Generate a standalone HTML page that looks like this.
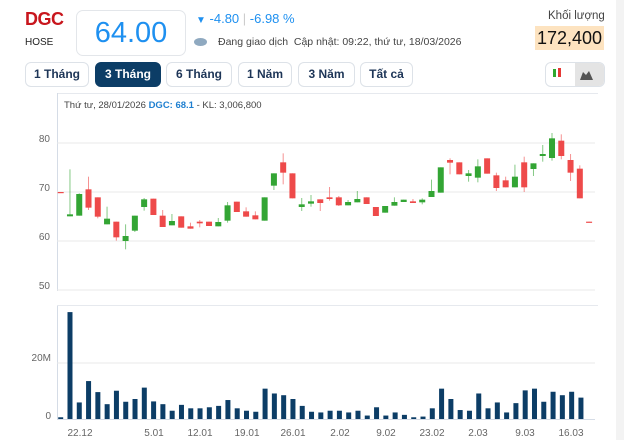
<!DOCTYPE html>
<html><head><meta charset="utf-8"><style>
body{margin:0;width:624px;height:440px;background:#fff;font-family:"Liberation Sans",sans-serif;position:relative;overflow:hidden}
.a{position:absolute;white-space:nowrap}
.btn{position:absolute;top:62px;height:23px;border:1px solid #dde2e8;border-radius:6px;font-size:12px;font-weight:bold;color:#1d3557;text-align:center;line-height:23px;background:#fff}
</style></head><body>
<div class="a" style="left:25px;top:9px;font-size:18px;font-weight:bold;color:#c8161d;letter-spacing:-0.5px">DGC</div>
<div class="a" style="left:25px;top:37px;font-size:10px;color:#222">HOSE</div>
<div class="a" style="left:76px;top:10px;width:108px;height:44px;border:1px solid #e3e6ea;border-radius:7px;text-align:center;font-size:29px;line-height:44px;color:#1e90f0">64.00</div>
<div class="a" style="left:196px;top:11px;font-size:13px;color:#1e90f0"><span style="font-size:10px">▼</span> -4.80 <span style="color:#ccc">|</span> -6.98 %</div>
<div class="a" style="left:194px;top:38px;width:13px;height:8px;border-radius:50%;background:#8fa9c0"></div>
<div class="a" style="left:218px;top:36px;font-size:10.5px;color:#444">Đang giao dịch &nbsp;Cập nhật: 09:22, thứ tư, 18/03/2026</div>
<div class="a" style="left:548px;top:10px;font-size:11.5px;color:#444">Khối lượng</div>
<div class="a" style="left:535px;top:26px;width:69px;height:24px;background:#fde3c0;font-size:18px;line-height:24px;text-align:center;color:#111">172,400</div>
<div class="btn" style="left:25px;width:62px">1 Tháng</div>
<div class="btn" style="left:95px;width:64px;background:#0c3d66;color:#fff;border-color:#0c3d66">3 Tháng</div>
<div class="btn" style="left:166px;width:64px">6 Tháng</div>
<div class="btn" style="left:238px;width:52px">1 Năm</div>
<div class="btn" style="left:298px;width:55px">3 Năm</div>
<div class="btn" style="left:360px;width:51px">Tất cả</div>
<div class="btn" style="left:545px;width:58px;padding:0;overflow:hidden"><div style="position:absolute;left:29px;top:0;width:29px;height:23px;background:#e4e4e4"></div></div>
<svg class="a" style="left:0;top:0" width="624" height="440">
<rect x="553" y="69" width="3" height="8" fill="#2ea82e"/><rect x="558" y="68" width="3" height="9" fill="#e53935"/>
<path d="M580 80 L583 72 L586 75 L589 71 L593 80Z" fill="#555"/>
<rect x="616" y="0" width="8" height="440" fill="#f3f3f3"/>
<line x1="57" y1="93.5" x2="598" y2="93.5" stroke="#e6e9ee"/>
<line x1="57.5" y1="93" x2="57.5" y2="291" stroke="#d5dce6"/>
<line x1="57.5" y1="305" x2="57.5" y2="420" stroke="#d5dce6"/>
<line x1="57" y1="305.5" x2="598" y2="305.5" stroke="#e6e9ee"/>
<g stroke="#e8e8e8"><line x1="57" y1="143" x2="595" y2="143"/><line x1="57" y1="192" x2="595" y2="192"/><line x1="57" y1="241" x2="595" y2="241"/><line x1="57" y1="290" x2="595" y2="290"/><line x1="57" y1="363" x2="595" y2="363"/><line x1="57" y1="419.5" x2="595" y2="419.5" stroke="#d5dce6"/></g>
<g font-size="10" fill="#666" text-anchor="end"><text x="50" y="142">80</text><text x="50" y="191">70</text><text x="50" y="240">60</text><text x="50" y="289">50</text><text x="51" y="361">20M</text><text x="51" y="419">0</text></g>
<g font-size="10" fill="#666" text-anchor="middle"><text x="80" y="436">22.12</text><text x="154" y="436">5.01</text><text x="200" y="436">12.01</text><text x="247" y="436">19.01</text><text x="293" y="436">26.01</text><text x="340" y="436">2.02</text><text x="386" y="436">9.02</text><text x="432" y="436">23.02</text><text x="478" y="436">2.03</text><text x="525" y="436">9.03</text><text x="571" y="436">16.03</text></g>
<text x="64" y="108" font-size="9.5" fill="#444">Thứ tư, 28/01/2026 <tspan fill="#1e7fd0" font-weight="bold">DGC: 68.1</tspan> - KL: 3,006,800</text>
<g id="c"></g><g id="v" fill="#0c3d66"></g>
</svg>
<script>
var C=[
['r',216,218,216,218],['g',283,289,148,289],['g',222,287,220,287],['r',208,263,170,270],['r',232,290,232,295],['g',296,313,260,313],['r',305,352,305,362],['g',348,363,313,388],['g',287,332,287,336],['g',238,261,234,272],['r',236,285,236,285],['r',287,321,270,321],['g',303,316,282,316],['r',289,323,289,323],['r',319,326,308,326],['r',305,310,300,322],['r',305,318,305,318],['g',306,319,294,319],['g',256,302,246,308],['r',245,276,245,276],['r',274,290,262,290],['r',286,298,274,298],['g',232,302,232,302],['g',160,197,160,210],['r',127,158,100,193],['r',160,235,160,235],['g',253,261,234,273],['g',244,251,225,260],['r',238,249,238,273],['r',232,237,201,242],
['r',232,256,228,258],['g',246,256,240,256],['g',237,247,213,247],['r',232,252,232,252],['r',261,288,261,288],['g',258,278,258,278],['g',246,257,232,257],['g',239,246,239,246],['r',244,249,237,249],['g',239,247,235,253],['g',213,231,179,231],['g',142,218,142,218],['r',120,128,115,163],['r',127,163,127,163],['g',160,168,150,185],['g',139,173,118,187],['r',115,161,115,161],['r',166,204,158,213],['r',181,202,170,202],['g',170,202,134,202],['r',127,202,110,216],['g',130,147,130,168],['g',102,108,75,125],['g',55,114,39,122],['r',62,108,43,118],['r',120,158,102,183],['r',146,235,136,235],['r',305,307,305,307]];
var V=[353,48,310,248,280,315,276,308,300,267,307,315,334,317,327,327,324,320,303,327,334,337,270,284,289,300,320,337,339,334,334,339,334,348,324,348,339,346,353,351,327,270,300,332,334,284,327,310,339,312,275,270,308,279,289,279,296];
var s='',y=function(z){return 120+z/3};
C.forEach(function(c,i){var x=60.7+i*9.27,col=c[0]=='g'?'#33a534':'#ee4a4a';
s+='<line x1="'+x+'" x2="'+x+'" y1="'+y(c[3])+'" y2="'+y(c[4])+'" stroke="'+col+'" stroke-opacity="0.6"/>';
var h=Math.max(1.2,(c[2]-c[1])/3);s+='<rect x="'+(x-3)+'" y="'+y(c[1])+'" width="6" height="'+h+'" fill="'+col+'"/>';});
document.getElementById('c').innerHTML=s;s='';
V.forEach(function(t,i){var x=60.7+i*9.29,h=(358-t)/2.9;s+='<rect x="'+(x-2.5)+'" y="'+(419-h)+'" width="5" height="'+h+'"/>';});
document.getElementById('v').innerHTML=s;
</script>
</body></html>
